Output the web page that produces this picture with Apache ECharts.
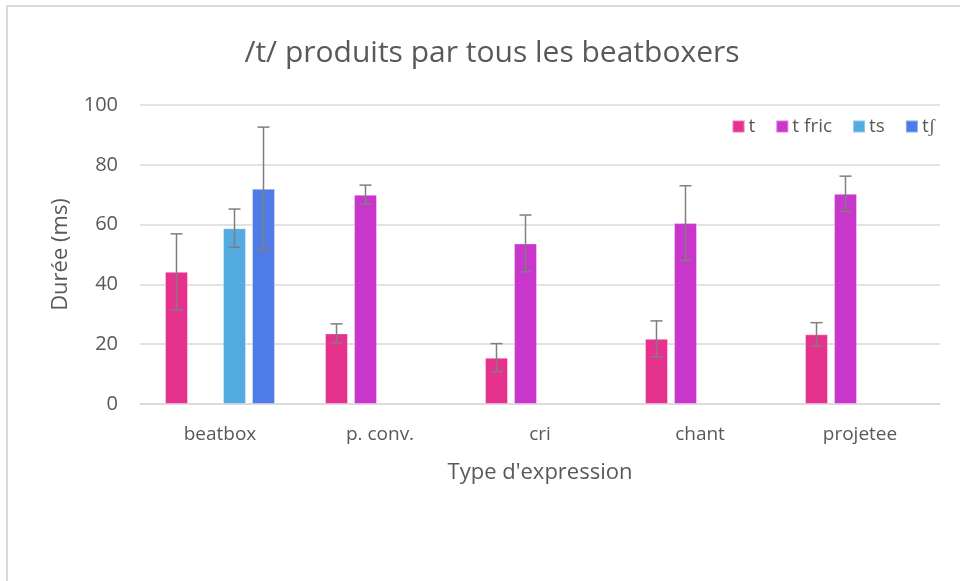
<!DOCTYPE html>
<html>
<head>
<meta charset="utf-8">
<script src="https://cdn.jsdelivr.net/npm/echarts@6/dist/echarts.min.js"></script>
<style>
  html, body { margin: 0; padding: 0; background: #fff; }
  #main { width: 960px; height: 581px; }
</style>
</head>
<body>
<div id="main"></div>
<script>
const categories = ["beatbox", "p. conv.", "cri", "chant", "projetee"];
const seriesNames = ["t", "t fric", "ts", "tʃ"];
const seriesColors = ["#e6328f", "#c836cc", "#53abe0", "#4f7be6"];

// mean durations (ms)
const tValues = [44.2, 23.6, 15.5, 21.8, 23.3];
const tFricValues = [null, 70.0, 53.7, 60.5, 70.3];
const tsValues = [58.8, null, null, null, null];
const tshValues = [72.0, null, null, null, null];

// error bar half-widths (ms)
const tErr = [12.7, 3.2, 4.7, 6.0, 3.9];
const tFricErr = [null, 3.2, 9.5, 12.5, 5.9];
const tsErr = [6.4, null, null, null, null];
const tshErr = [20.6, null, null, null, null];

const yTicks = [0, 20, 40, 60, 80, 100];

const allValues = [tValues, tFricValues, tsValues, tshValues];
const allErrs = [tErr, tFricErr, tsErr, tshErr];

const BAR_W = 23;
const BAR_GAP = 6;

const chart = echarts.init(document.getElementById("main"));

const barSeries = seriesNames.map((name, i) => ({
  name: name,
  type: "bar",
  data: allValues[i],
  barWidth: BAR_W,
  barGap: (BAR_GAP / BAR_W * 100) + "%",
  itemStyle: { color: seriesColors[i], borderColor: "rgba(255,255,255,0.35)", borderWidth: 1 }
}));

// error bars as one custom series: [categoryIndex, seriesIndex, low, high]
const errData = [];
allValues.forEach((vals, s) => {
  vals.forEach((v, c) => {
    if (v != null && allErrs[s][c] != null) {
      errData.push([c, s, v - allErrs[s][c], v + allErrs[s][c]]);
    }
  });
});

const errSeries = {
  type: "custom",
  name: "err",
  silent: true,
  z: 5,
  renderItem: (params, api) => {
    const c = api.value(0);
    const s = api.value(1);
    const lo = api.coord([c, api.value(2)]);
    const hi = api.coord([c, api.value(3)]);
    const off = (s - 1.5) * (BAR_W + BAR_GAP);
    const x = lo[0] + off;
    const style = { stroke: "#7f7f7f", lineWidth: 1.5 };
    return {
      type: "group",
      children: [
        { type: "line", shape: { x1: x, y1: lo[1], x2: x, y2: hi[1] }, style },
        { type: "line", shape: { x1: x - 6, y1: lo[1], x2: x + 6, y2: lo[1] }, style },
        { type: "line", shape: { x1: x - 6, y1: hi[1], x2: x + 6, y2: hi[1] }, style }
      ]
    };
  },
  encode: { x: 0, y: [2, 3] },
  data: errData
};

chart.setOption({
  backgroundColor: "#fff",
  animation: false,
  textStyle: { fontFamily: "Open Sans" },
  title: {
    text: "/t/ produits par tous les beatboxers",
    left: 487,
    textAlign: "center",
    top: 33,
    textStyle: { fontSize: 30, fontWeight: "normal", color: "#595959", fontFamily: "Open Sans" }
  },
  legend: {
    data: seriesNames,
    right: 20,
    top: 112,
    itemWidth: 12,
    itemHeight: 12,
    itemGap: 20,
    icon: "rect",
    textStyle: { fontSize: 19, color: "#595959", padding: [0, 0, 0, -1] }
  },
  graphic: [{
    type: "rect",
    shape: { x: 7, y: 6, width: 980, height: 600 },
    style: { fill: "none", stroke: "#d9d9d9", lineWidth: 2 },
    silent: true
  }],
  grid: { left: 140, right: 20, top: 105, bottom: 177 },
  xAxis: {
    type: "category",
    data: categories,
    name: "Type d'expression",
    nameLocation: "middle",
    nameGap: 58,
    nameTextStyle: { fontSize: 22, color: "#595959" },
    axisLine: { lineStyle: { color: "#d9d9d9", width: 1.5 } },
    axisTick: { show: false },
    axisLabel: { fontSize: 19, color: "#595959", margin: 21 }
  },
  yAxis: {
    type: "value",
    min: yTicks[0],
    max: yTicks[yTicks.length - 1],
    interval: yTicks[1] - yTicks[0],
    name: "Durée (ms)",
    nameLocation: "middle",
    nameGap: 68,
    nameTextStyle: { fontSize: 22, color: "#595959" },
    axisLine: { show: false },
    axisTick: { show: false },
    axisLabel: { fontSize: 20, color: "#595959", margin: 22 },
    splitLine: { lineStyle: { color: "#d9d9d9", width: 1.5 } }
  },
  series: [...barSeries, errSeries]
});
</script>
</body>
</html>
